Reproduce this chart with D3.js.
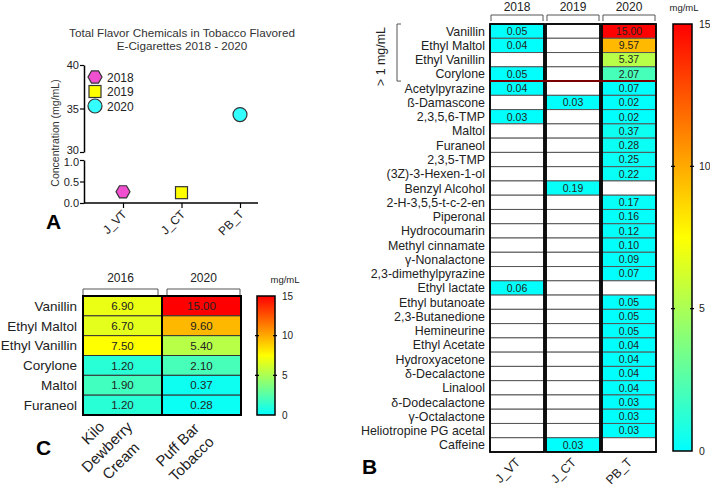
<!DOCTYPE html>
<html><head><meta charset="utf-8">
<script src="https://cdn.jsdelivr.net/npm/d3@7"></script>
<style>
body{margin:0;background:#fff;}
svg{display:block;font-family:"Liberation Sans",Arial,sans-serif;}
</style></head>
<body><svg id="c" width="710" height="488"></svg>
<script>
// ---------- Panel A data ----------
const aCategories = ["J_VT", "J_CT", "PB_T"];
const aYears = ["2018", "2019", "2020"];
const aValues = [0.26, 0.24, 34.3];
const aUpperTicks = [30, 35, 40];
const aLowerTicks = [0.0, 0.5, 1.0];

// ---------- Panel B data ----------
const bCompounds = ["Vanillin","Ethyl Maltol","Ethyl Vanillin","Corylone","Acetylpyrazine","ß-Damascone","2,3,5,6-TMP","Maltol","Furaneol","2,3,5-TMP","(3Z)-3-Hexen-1-ol","Benzyl Alcohol","2-H-3,5,5-t-c-2-en","Piperonal","Hydrocoumarin","Methyl cinnamate","γ-Nonalactone","2,3-dimethylpyrazine","Ethyl lactate","Ethyl butanoate","2,3-Butanedione","Hemineurine","Ethyl Acetate","Hydroxyacetone","δ-Decalactone","Linalool","δ-Dodecalactone","γ-Octalactone","Heliotropine PG acetal","Caffeine"];
const bYears = ["2018", "2019", "2020"];
const bProducts = ["J_VT", "J_CT", "PB_T"];
const b2018 = [0.05,0.04,null,0.05,0.04,null,0.03,null,null,null,null,null,null,null,null,null,null,null,0.06,null,null,null,null,null,null,null,null,null,null,null];
const b2019 = [null,null,null,null,null,0.03,null,null,null,null,null,0.19,null,null,null,null,null,null,null,null,null,null,null,null,null,null,null,null,null,0.03];
const b2020 = [15.00,9.57,5.37,2.07,0.07,0.02,0.02,0.37,0.28,0.25,0.22,null,0.17,0.16,0.12,0.10,0.09,0.07,null,0.05,0.05,0.05,0.04,0.04,0.04,0.04,0.03,0.03,0.03,null];
const bHighCount = 4;

// ---------- Panel C data ----------
const cCompounds = ["Vanillin","Ethyl Maltol","Ethyl Vanillin","Corylone","Maltol","Furaneol"];
const cYears = ["2016", "2020"];
const c2016 = [6.90, 6.70, 7.50, 1.20, 1.90, 1.20];
const c2020 = [15.00, 9.60, 5.40, 2.10, 0.37, 0.28];
const cProducts = [["Kilo","Dewberry","Cream"], ["Puff Bar","Tobacco"]];

const colorTicks = [0, 5, 10, 15];

const svg = d3.select("#c");
const color = d3.scaleLinear().domain([0, 7.5, 15]).range(["#00ffff", "#ffff00", "#ff0000"]);

// gradient
const defs = svg.append("defs");
const grad = defs.append("linearGradient").attr("id","cg").attr("x1",0).attr("y1",1).attr("x2",0).attr("y2",0);
d3.range(0, 15.01, 1.5).forEach(v => grad.append("stop").attr("offset", v/15).attr("stop-color", color(v)));

// ================= Panel A =================
const gA = svg.append("g");
gA.append("text").attr("x",182).attr("y",37).attr("text-anchor","middle").attr("font-size",11.7).attr("fill","#333").text("Total Flavor Chemicals in Tobacco Flavored");
gA.append("text").attr("x",182).attr("y",50).attr("text-anchor","middle").attr("font-size",11.7).attr("fill","#333").text("E-Cigarettes  2018 - 2020");

const axX = 84;
const xA = d3.scalePoint().domain(aCategories).range([123, 240]);
const yUp = d3.scaleLinear().domain([30, 40]).range([152, 65]);
const yLo = d3.scaleLinear().domain([0, 1]).range([203, 160]);

const upAxis = gA.append("g").attr("transform",`translate(${axX},0)`)
  .call(d3.axisLeft(yUp).tickValues(aUpperTicks).tickSize(4).tickSizeOuter(0).tickFormat(d3.format("d")));
const loAxis = gA.append("g").attr("transform",`translate(${axX},0)`)
  .call(d3.axisLeft(yLo).tickValues(aLowerTicks).tickSize(4).tickSizeOuter(0).tickFormat(d3.format(".1f")));
[upAxis, loAxis].forEach(g => {
  g.select(".domain").attr("stroke","#000").attr("stroke-width",1.5);
  g.selectAll(".tick line").attr("stroke","#000").attr("stroke-width",1.2);
  g.selectAll(".tick text").attr("font-size",11).attr("fill","#222").attr("x",-5).attr("font-family","Liberation Sans, Arial, sans-serif");
});
upAxis.selectAll(".tick text").filter(d => d === 30).attr("dy","0.1em");
loAxis.selectAll(".tick text").filter(d => d === 1).attr("dy","0.5em");
const xAxisA = gA.append("g").attr("transform","translate(0,203)")
  .call(d3.axisBottom(xA).tickSize(5).tickSizeOuter(0));
xAxisA.select(".domain").attr("d","M84,0H258").attr("stroke","#000").attr("stroke-width",1.5);
xAxisA.selectAll(".tick line").attr("stroke","#000").attr("stroke-width",1.2);
xAxisA.selectAll(".tick text").attr("font-size",12).attr("fill","#222").attr("font-family","Liberation Sans, Arial, sans-serif")
  .attr("text-anchor","end").attr("dy",0).attr("y",0).attr("transform","translate(4,12) rotate(-45)");

gA.append("text").attr("transform","translate(59,133) rotate(-90)").attr("text-anchor","middle").attr("font-size",10.5).attr("fill","#333").text("Concentration (mg/mL)");
gA.append("text").attr("x",46).attr("y",229).attr("font-size",21).attr("font-weight","bold").text("A");

function hexPath(r){ return d3.range(6).map(i => { const a = Math.PI/3*i; return [r*Math.cos(a), r*Math.sin(a)]; }).map((p,i)=>(i?"L":"M")+p[0].toFixed(2)+","+p[1].toFixed(2)).join("")+"Z"; }
const markerFill = ["#f050d0", "#ffff00", "#33ffff"];
function drawMarker(g, i, x, y){
  if (i === 0) g.append("path").attr("d", hexPath(7)).attr("transform",`translate(${x},${y})`).attr("fill",markerFill[0]).attr("stroke","#333").attr("stroke-width",1.2);
  else if (i === 1) g.append("rect").attr("x",x-6).attr("y",y-6).attr("width",12).attr("height",12).attr("fill",markerFill[1]).attr("stroke","#333").attr("stroke-width",1.2);
  else g.append("circle").attr("cx",x).attr("cy",y).attr("r",7).attr("fill",markerFill[2]).attr("stroke","#333").attr("stroke-width",1.2);
}
aValues.forEach((v,i) => {
  const y = v >= 30 ? yUp(v) : yLo(v);
  drawMarker(gA, i, xA(aCategories[i]), y);
});
aYears.forEach((yr,i) => {
  const ly = 77 + i*14.5;
  drawMarker(gA, i, 95, ly);
  gA.append("text").attr("x",107).attr("y",ly+4.5).attr("font-size",12).attr("fill","#222").text(yr);
});

// ================= Panel C =================
const gC = svg.append("g");
const xC = d3.scaleBand().domain(cYears).range([83, 241]);
const yC = d3.scaleBand().domain(cCompounds).range([296, 415]);
const cData = [c2016, c2020];
cYears.forEach((yr, ci) => {
  cCompounds.forEach((comp, ri) => {
    const v = cData[ci][ri];
    gC.append("rect").attr("x",xC(yr)).attr("y",yC(comp)).attr("width",xC.bandwidth()).attr("height",yC.bandwidth())
      .attr("fill",color(v)).attr("stroke","#333").attr("stroke-width",1);
    gC.append("text").attr("x",xC(yr)+xC.bandwidth()/2).attr("y",yC(comp)+yC.bandwidth()/2).attr("dy","0.36em")
      .attr("text-anchor","middle").attr("font-size",11.5).attr("fill","#222").text(v.toFixed(2));
  });
  gC.append("rect").attr("x",xC(yr)).attr("y",296).attr("width",xC.bandwidth()).attr("height",119).attr("fill","none").attr("stroke","#000").attr("stroke-width",2);
  const bx0 = xC(yr) + (ci===0?0:5), bx1 = xC(yr)+xC.bandwidth() - (ci===0?4:1);
  gC.append("path").attr("d",`M${bx0},295V289H${bx1}V295`).attr("fill","none").attr("stroke","#555").attr("stroke-width",1);
  gC.append("text").attr("x",(bx0+bx1)/2).attr("y",282).attr("text-anchor","middle").attr("font-size",12).attr("fill","#222").text(yr);
});
cCompounds.forEach(comp => {
  gC.append("text").attr("x",77).attr("y",yC(comp)+yC.bandwidth()/2).attr("dy","0.36em").attr("text-anchor","end").attr("font-size",13.5).attr("fill","#222").text(comp);
});
gC.append("text").attr("x",36).attr("y",455).attr("font-size",21).attr("font-weight","bold").text("C");
const cLabelCenters = [[107, 447], [184.5, 452]];
cProducts.forEach((lines, ci) => {
  const [cx, cy] = cLabelCenters[ci];
  const n = lines.length;
  const t = gC.append("text").attr("transform",`translate(${cx},${cy}) rotate(-45)`).attr("text-anchor","middle").attr("font-size",15).attr("fill","#222");
  lines.forEach((ln, li) => t.append("tspan").attr("x",0).attr("y",(li-(n-1)/2)*19.8+5).text(ln));
});
// colorbar C
const yCB = d3.scaleLinear().domain([0,15]).range([415, 296]);
gC.append("rect").attr("x",257).attr("y",296).attr("width",18).attr("height",119).attr("fill","url(#cg)").attr("stroke","#000").attr("stroke-width",1.5);
colorTicks.forEach(t => {
  if (t>0 && t<15) gC.append("path").attr("d",`M255,${yCB(t)}h4M273,${yCB(t)}h4`).attr("stroke","#000").attr("stroke-width",1.2);
  gC.append("text").attr("x",282).attr("y",yCB(t)).attr("dy","0.36em").attr("font-size",10).attr("fill","#222").text(t);
});
gC.append("text").attr("x",285).attr("y",283).attr("text-anchor","middle").attr("font-size",9.5).attr("fill","#222").text("mg/mL");

// ================= Panel B =================
const gB = svg.append("g");
const xB = d3.scaleBand().domain(bYears).range([490, 656]).paddingInner(0.035);
const yB = d3.scaleBand().domain(bCompounds).range([24, 452]);
const bData = [b2018, b2019, b2020];
bYears.forEach((yr, ci) => {
  bCompounds.forEach((comp, ri) => {
    const v = bData[ci][ri];
    gB.append("rect").attr("x",xB(yr)).attr("y",yB(comp)).attr("width",xB.bandwidth()).attr("height",yB.bandwidth())
      .attr("fill", v==null ? "#fff" : color(v)).attr("stroke","#555").attr("stroke-width",1);
    if (v != null) gB.append("text").attr("x",xB(yr)+xB.bandwidth()/2).attr("y",yB(comp)+yB.bandwidth()/2).attr("dy","0.36em")
      .attr("text-anchor","middle").attr("font-size",10.5).attr("fill","#222").text(v.toFixed(2));
  });
  gB.append("rect").attr("x",xB(yr)).attr("y",24).attr("width",xB.bandwidth()).attr("height",428).attr("fill","none").attr("stroke","#000").attr("stroke-width",1.8);
  const bx0 = xB(yr)+1, bx1 = xB(yr)+xB.bandwidth()-1;
  gB.append("path").attr("d",`M${bx0},21V15H${bx1}V21`).attr("fill","none").attr("stroke","#555").attr("stroke-width",1);
  gB.append("text").attr("x",(bx0+bx1)/2).attr("y",11).attr("text-anchor","middle").attr("font-size",12).attr("fill","#222").text(yr);
  gB.append("text").attr("text-anchor","end").attr("font-size",12.5).attr("fill","#222")
    .attr("transform",`translate(${xB(yr)+xB.bandwidth()/2+4},${463}) rotate(-45)`).text(bProducts[ci]);
});
const sepY = yB(bCompounds[bHighCount]);
gB.append("path").attr("d",`M${xB("2018")},${sepY}H${xB("2020")+xB.bandwidth()}`).attr("stroke","#7a0000").attr("stroke-width",2);
bCompounds.forEach(comp => {
  gB.append("text").attr("x",485).attr("y",yB(comp)+yB.bandwidth()/2).attr("dy","0.36em").attr("text-anchor","end").attr("font-size",12.4).attr("fill","#222").text(comp);
});
gB.append("path").attr("d",`M401,24H397V${sepY}H401`).attr("fill","none").attr("stroke","#555").attr("stroke-width",1);
gB.append("text").attr("transform",`translate(385,${(24+sepY)/2+4}) rotate(-90)`).attr("text-anchor","middle").attr("font-size",12.4).attr("fill","#222").text("> 1 mg/mL");
gB.append("text").attr("x",362).attr("y",474).attr("font-size",21).attr("font-weight","bold").text("B");
// colorbar B
const yBB = d3.scaleLinear().domain([0,15]).range([451, 24]);
gB.append("rect").attr("x",673).attr("y",24).attr("width",19).attr("height",427).attr("fill","url(#cg)").attr("stroke","#000").attr("stroke-width",1.5);
colorTicks.forEach(t => {
  if (t>0 && t<15) gB.append("path").attr("d",`M671,${yBB(t)}h4M690,${yBB(t)}h4`).attr("stroke","#000").attr("stroke-width",1.2);
  gB.append("text").attr("x",699).attr("y",yBB(t)).attr("dy","0.36em").attr("font-size",10.5).attr("fill","#222").text(t);
});
gB.append("text").attr("x",684).attr("y",11).attr("text-anchor","middle").attr("font-size",9.5).attr("fill","#222").text("mg/mL");
</script></body></html>
